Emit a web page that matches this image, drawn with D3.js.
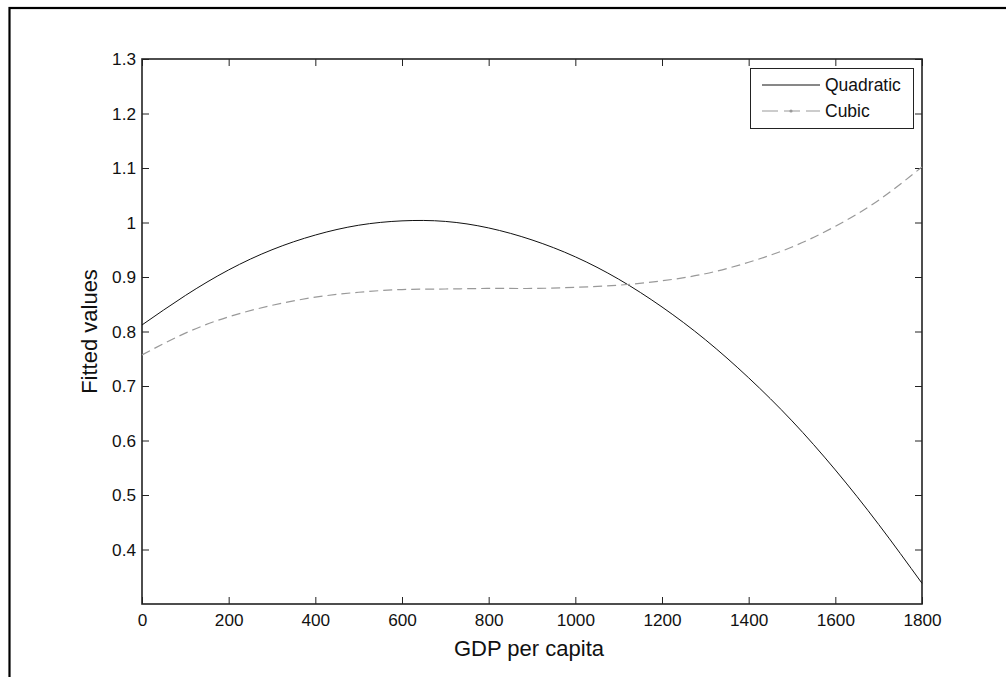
<!DOCTYPE html>
<html>
<head>
<meta charset="utf-8">
<script src="https://cdn.jsdelivr.net/npm/d3@7"></script>
<style>
  body { margin: 0; background: #fff; }
  text { font-family: "Liberation Sans", Arial, sans-serif; fill: #111; }
</style>
</head>
<body>
<svg id="chart" width="1006" height="677"></svg>
<script>
// values, every 100 of GDP per capita
const gdp = [0,100,200,300,400,500,600,700,800,900,1000,1100,1200,1300,1400,1500,1600,1700,1800];
const quadratic = [0.812,0.866,0.913,0.950,0.977,0.995,1.003,1.002,0.990,0.968,0.937,0.896,0.845,0.785,0.715,0.636,0.546,0.446,0.338];
const cubic = [0.757,0.797,0.827,0.848,0.863,0.872,0.877,0.878,0.879,0.879,0.881,0.885,0.893,0.906,0.927,0.955,0.993,1.041,1.102];
const xTicks = [0,200,400,600,800,1000,1200,1400,1600,1800];
const yTicks = [0.4,0.5,0.6,0.7,0.8,0.9,1,1.1,1.2,1.3];
const seriesNames = ["Quadratic","Cubic"];

const svg = d3.select("#chart");

// plot box - matlab style
const box = {left: 142, right: 922, top: 59, bottom: 604};
const tickLen = 7;
const labelSize = 17.2;

const x = d3.scaleLinear().domain([0,1800]).range([box.left, box.right]);
const y = d3.scaleLinear().domain([0.3,1.3]).range([box.bottom, box.top]);

// outer frame (runs off the right/bottom edge)
svg.append("rect")
    .attr("x",9.5).attr("y",8)
    .attr("width",1010).attr("height",690)
    .attr("fill","none").attr("stroke","#000").attr("stroke-width",2.2);

// axes, ticks inside on all 4 sides
let bottomAxis = d3.axisBottom(x).tickValues(xTicks).tickSizeInner(-tickLen).tickSizeOuter(0)
    .tickPadding(10).tickFormat(d3.format("d"));
let leftAxis = d3.axisLeft(y).tickValues(yTicks).tickSizeInner(-tickLen).tickSizeOuter(0)
    .tickPadding(6).tickFormat(d => d3.format("")(+d.toFixed(1)));

let gx = svg.append("g").attr("transform",`translate(0,${box.bottom})`).call(bottomAxis);
let gy = svg.append("g").attr("transform",`translate(${box.left},0)`).call(leftAxis);
let gt = svg.append("g").attr("transform",`translate(0,${box.top})`)
    .call(d3.axisTop(x).tickValues(xTicks).tickSizeInner(-tickLen).tickSizeOuter(0).tickFormat(""));
let gr = svg.append("g").attr("transform",`translate(${box.right},0)`)
    .call(d3.axisRight(y).tickValues(yTicks).tickSizeInner(-tickLen).tickSizeOuter(0).tickFormat(""));

[gx,gy,gt,gr].forEach(g => {
    g.select(".domain").remove();
    g.selectAll(".tick line").attr("stroke","#222").attr("stroke-width",1);
    g.selectAll(".tick text").attr("font-size",labelSize).attr("fill","#111")
        .style("font-family","'Liberation Sans', Arial, sans-serif");
});

// box border
svg.append("rect")
    .attr("x",box.left).attr("y",box.top)
    .attr("width",box.right-box.left).attr("height",box.bottom-box.top)
    .attr("fill","none").attr("stroke","#222").attr("stroke-width",1.6);

// curves
let line = d3.line().x((d,i) => x(gdp[i])).y(d => y(d)).curve(d3.curveNatural);

svg.append("path").datum(quadratic)
    .attr("d",line)
    .attr("fill","none").attr("stroke","#111").attr("stroke-width",1);

svg.append("path").datum(cubic)
    .attr("d",line)
    .attr("fill","none").attr("stroke","#999").attr("stroke-width",1.2)
    .attr("stroke-dasharray","9,5");

// axis titles
svg.append("text")
    .attr("x",529).attr("y",656)
    .attr("text-anchor","middle").attr("font-size",22)
    .text("GDP per capita");

svg.append("text")
    .attr("transform",`translate(97,${(box.top+box.bottom)/2}) rotate(-90)`)
    .attr("text-anchor","middle").attr("font-size",22)
    .text("Fitted values");

// legend
let lg = svg.append("g");
lg.append("rect")
    .attr("x",750.5).attr("y",68.5).attr("width",163).attr("height",60)
    .attr("fill","#fff").attr("stroke","#222").attr("stroke-width",1);

let legendY = [85, 111];
lg.append("line")
    .attr("x1",762).attr("x2",820).attr("y1",legendY[0]).attr("y2",legendY[0])
    .attr("stroke","#111").attr("stroke-width",1);
lg.append("line")
    .attr("x1",762).attr("x2",820).attr("y1",legendY[1]).attr("y2",legendY[1])
    .attr("stroke","#999").attr("stroke-width",1.2).attr("stroke-dasharray","16,6");
lg.append("circle")
    .attr("cx",791).attr("cy",legendY[1]).attr("r",1.6).attr("fill","#999");

lg.selectAll("text.leg").data(seriesNames).enter().append("text")
    .classed("leg",true)
    .attr("x",825).attr("y",(d,i) => legendY[i]).attr("dy","0.35em")
    .attr("font-size",17.5)
    .text(d => d);
</script>
</body>
</html>
